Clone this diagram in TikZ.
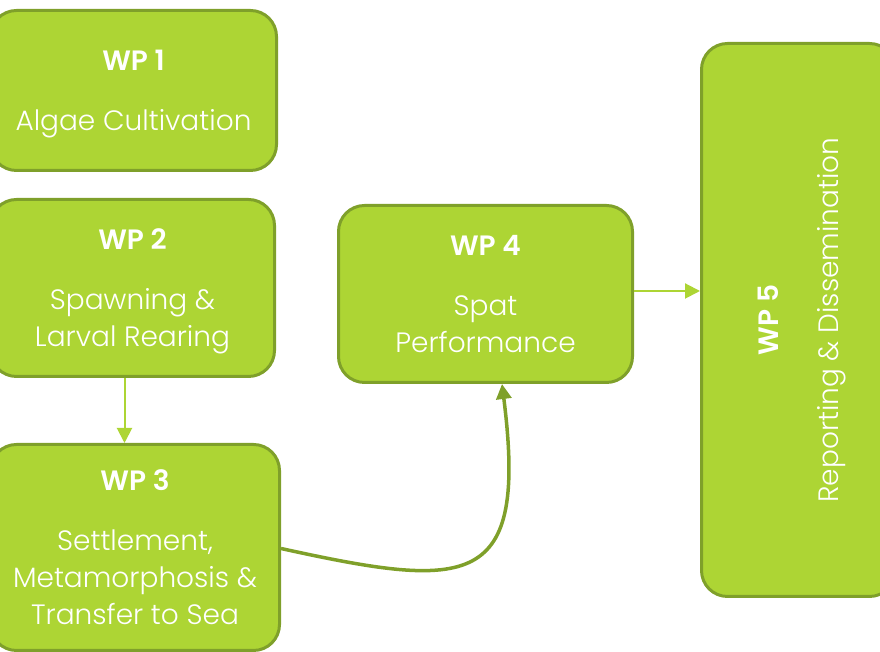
\documentclass[tikz,border=0pt]{standalone}
\usepackage{fontspec}
\setmainfont{Poppins}[UprightFont=* Light,BoldFont=* SemiBold]
\usepackage{tikz}
\usetikzlibrary{arrows.meta}
\definecolor{wpfill}{RGB}{173,213,52}
\definecolor{wpline}{RGB}{127,160,42}
\newcommand{\nodepth}[1]{\raisebox{0pt}[\height][0pt]{#1}}
\tikzset{wpbox/.style={draw=wpline,line width=1.5pt,fill=wpfill,rounded corners=13pt,text=white,align=center,inner sep=0pt,font=\fontsize{14}{18.5}\selectfont}}

\begin{document}
\begin{tikzpicture}[x=0.5pt,y=0.5pt]
                      \useasboundingbox (0,0) rectangle (880,652);
                      \clip (0,0) rectangle (880,652);
                      \node[wpbox,minimum width=143pt,minimum height=80pt](wp1)at(133.5,561.5){\textbf{WP 1}\\[11.5pt]\nodepth{Algae Cultivation}};
                      \node[wpbox,minimum width=142pt,minimum height=88.5pt](wp2)at(132.5,364){\textbf{WP 2}\\[11.5pt]Spawning \&\\\nodepth{Larval Rearing}};
                      \node[wpbox,minimum width=144.5pt,minimum height=103pt](wp3)at(135,104.5){\textbf{WP 3}\\[11.5pt]Settlement,\\Metamorphosis \&\\Transfer to Sea};
                      \node[wpbox,minimum width=147pt,minimum height=88.5pt](wp4)at(485.5,358){\textbf{WP 4}\\[11.5pt]Spat\\Performance};
                      \node[wpbox,rotate=90,minimum width=276.5pt,minimum height=97pt](wp5)at(798.5,332){\textbf{WP 5}\\[11.5pt]\nodepth{Reporting \& Dissemination}};
                      \draw[-{Triangle[length=7.5pt,width=7.5pt]},wpfill,line width=1pt] ([xshift=-4pt]wp2.south) -- ([xshift=-4pt]wp2.south |- wp3.north);
                      \draw[-{Triangle[length=7.5pt,width=7.5pt]},wpfill,line width=1pt] ([yshift=1.5pt]wp4.east) -- ([yshift=1.5pt]wp4.east -| wp5.north);
                      \draw[-{Triangle[length=7.5pt,width=7.5pt]},wpline,line width=1.75pt] ([yshift=-0.5pt]wp3.east) .. controls (470,62) and (528,62) .. ([xshift=8.25pt]wp4.south);
                  \end{tikzpicture}
\end{document}
